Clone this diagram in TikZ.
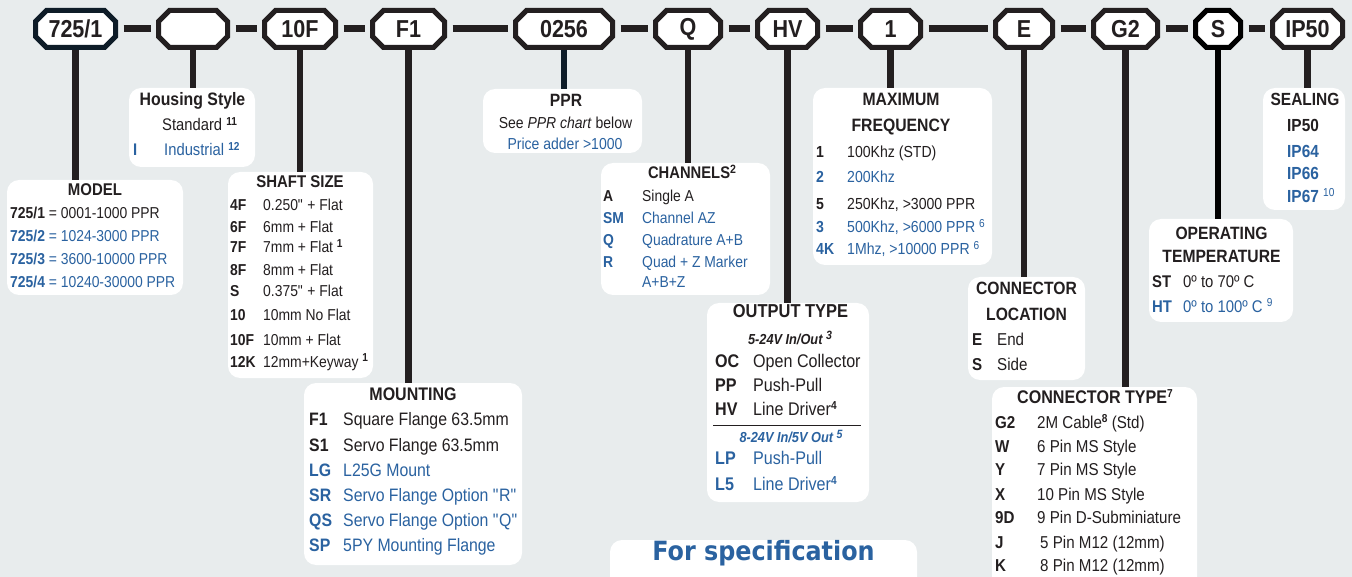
\documentclass[tikz,border=0pt]{standalone}
\usepackage{fontspec}
\setmainfont{Liberation Sans}[FakeStretch=0.88]
\newfontfamily\specfont{DejaVu Sans}[FakeStretch=0.9]
\definecolor{bgc}{HTML}{E8ECED}
\definecolor{ink}{HTML}{231F20}
\definecolor{navy}{HTML}{0E1C28}
\definecolor{bl}{HTML}{2A62A0}
\newcommand\bodysz{15.5}
\newcommand\titlesz{17.8}
\newcommand\sps[1]{\raisebox{0.62ex}{\fontsize{11.5}{12}\selectfont\bfseries #1}}
\newcommand\spr[1]{\raisebox{0.62ex}{\fontsize{11.5}{12}\selectfont\mdseries #1}}
\newcommand\dq{\XeTeXglyph\XeTeXcharglyph34\relax}
\tikzset{
  octline/.style={draw=ink, line width=5pt, fill=white, line join=miter},
  octnode/.style={inner sep=0pt, outer sep=2.5pt, minimum height=37pt, text=ink,
    font=\fontsize{24.5}{26}\selectfont\bfseries},
  bar/.style={draw=ink, line width=7pt},
  stem/.style={draw=ink, line width=6.5pt},
  panel/.style={fill=white, rounded corners=12pt, inner sep=0pt, outer sep=0pt, anchor=north west},
  kcode/.style={anchor=mid west, inner sep=0pt, yshift=-3pt, text=ink, font=\fontsize{\bodysz}{\bodysz}\selectfont\bfseries},
  kval/.style={anchor=mid west, inner sep=0pt, yshift=-3pt, text=ink, font=\fontsize{\bodysz}{\bodysz}\selectfont},
  ktext/.style={anchor=mid, inner sep=0pt, yshift=-3pt, text=ink, font=\fontsize{\bodysz}{\bodysz}\selectfont},
  ktitle/.style={anchor=mid, inner sep=0pt, yshift=-3pt, text=ink, font=\fontsize{\titlesz}{\titlesz}\selectfont\bfseries},
}
% color, name, cx, width, text
\newcommand\octo[5][ink]{%
  \draw[octline, draw=#1] ({#3-#4/2+11},10.5) -- ({#3+#4/2-11},10.5) -- ({#3+#4/2},21.5) -- ({#3+#4/2},36.5)
     -- ({#3+#4/2-11},47.5) -- ({#3-#4/2+11},47.5) -- ({#3-#4/2},36.5) -- ({#3-#4/2},21.5) -- cycle;
  \node[octnode, minimum width=#4] (#2) at (#3,29) {#5};}
% name, x1, y1, x2, y2
\newcommand\panel[5]{\node[panel, minimum width={#4-#2}, minimum height={#5-#3}] (#1) at (#2,#3) {};}
% color, name, xcode, xval, y, code, value
\newcommand\itm[7][ink]{%
  \node[kcode, text=#1] (#2c) at (#3,#5) {#6};
  \node[kval, text=#1] (#2v) at (#4,#5) {#7};}
\begin{document}
\begin{tikzpicture}[x=1pt,y=-1pt]
\useasboundingbox (0,0) rectangle (1352,577);
\clip (0,0) rectangle (1352,577);
\fill[bgc] (0,0) rectangle (1352,577);

% ---------- panels ----------
\panel{pHouse}{129}{88}{255}{167}
\panel{pPPR}{483}{89}{642}{153}
\panel{pFreq}{813}{88}{992}{265}
\panel{pSeal}{1263}{88}{1345}{210}
\panel{pModel}{7}{180}{183}{295}
\panel{pShaft}{228}{172}{373}{378}
\panel{pMount}{304}{383}{522}{565}
\panel{pChan}{601}{163}{770}{295}
\panel{pOut}{707}{303}{869}{502}
\panel{pLoc}{968}{277}{1085}{380}
\panel{pTemp}{1149}{219}{1293}{322}
\panel{pType}{992}{387}{1197}{600}
\panel{pSpec}{610}{540}{917}{620}

% ---------- octagons ----------
\octo[navy]{o1}{75.5}{80}{725/1}
\octo{o2}{193}{69}{}
\octo{o3}{300}{71}{10F}
\octo{o4}{408.5}{72}{F1}
\octo{o5}{564}{97}{0256}
\octo{o6}{688}{65}{Q}
\octo{o7}{787.5}{60}{HV}
\octo{o8}{890.5}{60}{1}
\octo{o9}{1024}{57}{E}
\octo{o10}{1125.5}{64}{G2}
\octo[black]{o11}{1218}{45}{S}
\octo{o12}{1307.5}{70}{IP50}

% ---------- bars ----------
\foreach \a/\b in {o1/o2,o2/o3,o3/o4,o4/o5,o5/o6,o6/o7,o7/o8,o8/o9,o9/o10,o10/o11,o11/o12}
  \draw[bar] ([xshift=5.5pt]\a.east) -- ([xshift=-5.5pt]\b.west);

% ---------- stems ----------
\draw[stem] (o1.south) -- (o1.south |- pModel.north);
\draw[stem] (o2.south) -- (o2.south |- pHouse.north);
\draw[stem] (o3.south) -- (o3.south |- pShaft.north);
\draw[stem] (o4.south) -- (o4.south |- pMount.north);
\draw[stem, draw=navy] (o5.south) -- (o5.south |- pPPR.north);
\draw[stem] (o6.south) -- (o6.south |- pChan.north);
\draw[stem] (o7.south) -- (o7.south |- pOut.north);
\draw[stem] (o8.south) -- (o8.south |- pFreq.north);
\draw[stem] (o9.south) -- (o9.south |- pLoc.north);
\draw[stem] (o10.south) -- (o10.south |- pType.north);
\draw[stem, draw=black] (o11.south) -- (o11.south |- pTemp.north);
\draw[stem] (o12.south) -- (o12.south |- pSeal.north);

% ---------- Housing ----------
\renewcommand\titlesz{18}\renewcommand\bodysz{16.8}
\node[ktitle] (tHouse) at (192.5,100) {Housing Style};
\node[kval] (hStd) at (162,125) {Standard \sps{11}};
\itm[bl]{hInd}{133}{164}{150}{I}{Industrial \sps{12}}

% ---------- PPR ----------
\renewcommand\titlesz{17.8}\renewcommand\bodysz{15.9}
\node[ktitle] (tPPR) at (566,100.5) {PPR};
\node[ktext] (pp1) at (565.5,123) {See \textit{PPR chart} below};
\node[ktext, text=bl] (pp2) at (565,144) {Price adder >1000};

% ---------- Model ----------
\renewcommand\titlesz{17}\renewcommand\bodysz{15.8}
\node[ktitle] (tModel) at (95,190) {MODEL};
\node[kval] (m1) at (10,213) {\textbf{725/1} = 0001-1000 PPR};
\node[kval, text=bl] (m2) at (10,236) {\textbf{725/2} = 1024-3000 PPR};
\node[kval, text=bl] (m3) at (10,259) {\textbf{725/3} = 3600-10000 PPR};
\node[kval, text=bl] (m4) at (10,281.5) {\textbf{725/4} = 10240-30000 PPR};

% ---------- Shaft ----------
\renewcommand\titlesz{17}\renewcommand\bodysz{15.8}
\node[ktitle] (tShaft) at (300,182) {SHAFT SIZE};
\itm{s1}{230}{263}{205}{4F}{0.250\dq{} + Flat}
\itm{s2}{230}{263}{226.5}{6F}{6mm + Flat}
\itm{s3}{230}{263}{247}{7F}{7mm + Flat \sps{1}}
\itm{s4}{230}{263}{269.5}{8F}{8mm + Flat}
\itm{s5}{230}{263}{290.5}{S}{0.375\dq{} + Flat}
\itm{s6}{230}{263}{315}{10}{10mm No Flat}
\itm{s7}{230}{263}{340}{10F}{10mm + Flat}
\itm{s8}{230}{263}{361.5}{12K}{12mm+Keyway \sps{1}}

% ---------- Mounting ----------
\renewcommand\titlesz{18.2}\renewcommand\bodysz{18}
\node[ktitle] (tMount) at (413,394.5) {MOUNTING};
\itm{f1}{309}{343}{420}{F1}{Square Flange 63.5mm}
\itm{f2}{309}{343}{445.5}{S1}{Servo Flange 63.5mm}
\itm[bl]{f3}{309}{343}{470.5}{LG}{L25G Mount}
\itm[bl]{f4}{309}{343}{496}{SR}{Servo Flange Option \dq{}R\dq{}}
\itm[bl]{f5}{309}{343}{521}{QS}{Servo Flange Option \dq{}Q\dq{}}
\itm[bl]{f6}{309}{343}{546}{SP}{5PY Mounting Flange}

% ---------- Channels ----------
\renewcommand\titlesz{16.8}\renewcommand\bodysz{15.8}
\node[ktitle] (tChan) at (692,173) {CHANNELS\raisebox{0.6ex}{\fontsize{12}{12}\selectfont 2}};
\itm{c1}{603}{642}{196}{A}{Single A}
\itm[bl]{c2}{603}{642}{217.5}{SM}{Channel AZ}
\itm[bl]{c3}{603}{642}{240}{Q}{Quadrature A+B}
\itm[bl]{c4}{603}{642}{261.5}{R}{Quad + Z Marker}
\node[kval, text=bl] (c5) at (642,281.5) {A+B+Z};

% ---------- Output type ----------
\renewcommand\titlesz{18.7}\renewcommand\bodysz{18.3}
\node[ktitle] (tOut) at (790.5,311.5) {OUTPUT TYPE};
\node[ktitle, font=\fontsize{14.5}{15}\selectfont\bfseries\itshape] (oSub1) at (790,338.5) {5-24V In/Out \raisebox{0.6ex}{\fontsize{12}{12}\selectfont 3}};
\itm{q1}{715}{753}{361.5}{OC}{Open Collector}
\itm{q2}{715}{753}{386}{PP}{Push-Pull}
\itm{q3}{715}{753}{410}{HV}{Line Driver\sps{4}}
\draw[ink, line width=1pt] (713,425) -- (861,425);
\node[ktitle, text=bl, font=\fontsize{14.5}{15}\selectfont\bfseries\itshape] (oSub2) at (791,437) {8-24V In/5V Out \raisebox{0.6ex}{\fontsize{12}{12}\selectfont 5}};
\itm[bl]{q4}{715}{753}{459}{LP}{Push-Pull}
\itm[bl]{q5}{715}{753}{484.5}{L5}{Line Driver\sps{4}}

% ---------- Max frequency ----------
\renewcommand\titlesz{17.9}\renewcommand\bodysz{16}
\node[ktitle] (tFreq1) at (901,100) {MAXIMUM};
\node[ktitle] (tFreq2) at (901,126) {FREQUENCY};
\itm{r1}{816}{847}{151.5}{1}{100Khz (STD)}
\itm[bl]{r2}{816}{847}{177}{2}{200Khz}
\itm{r3}{816}{847}{203.5}{5}{250Khz, >3000 PPR}
\itm[bl]{r4}{816}{847}{227}{3}{500Khz, >6000 PPR \spr{6}}
\itm[bl]{r5}{816}{847}{249}{4K}{1Mhz, >10000 PPR \spr{6}}

% ---------- Connector location ----------
\renewcommand\titlesz{17.8}\renewcommand\bodysz{17.2}
\node[ktitle] (tLoc1) at (1026.5,289) {CONNECTOR};
\node[ktitle] (tLoc2) at (1026.5,314.5) {LOCATION};
\itm{l1}{972}{997}{340}{E}{End}
\itm{l2}{972}{997}{365}{S}{Side}

% ---------- Operating temperature ----------
\renewcommand\titlesz{17.8}\renewcommand\bodysz{16.9}
\node[ktitle] (tTemp1) at (1221.5,233.5) {OPERATING};
\node[ktitle] (tTemp2) at (1221.5,256.5) {TEMPERATURE};
\itm{t1}{1152}{1183}{282}{ST}{0º to 70º C}
\itm[bl]{t2}{1152}{1183}{306.5}{HT}{0º to 100º C \spr{9}}

% ---------- Connector type ----------
\renewcommand\titlesz{18.3}\renewcommand\bodysz{17.2}
\node[ktitle] (tType) at (1095,397.5) {CONNECTOR TYPE\sps{7}};
\itm{g1}{995}{1037}{422.5}{G2}{2M Cable\sps{8} (Std)}
\itm{g2}{995}{1037}{447}{W}{6 Pin MS Style}
\itm{g3}{995}{1037}{470}{Y}{7 Pin MS Style}
\itm{g4}{995}{1037}{494.5}{X}{10 Pin MS Style}
\itm{g5}{995}{1037}{518}{9D}{9 Pin D-Subminiature}
\itm{g6}{995}{1040}{542.5}{J}{5 Pin M12 (12mm)}
\itm{g7}{995}{1040}{566}{K}{8 Pin M12 (12mm)}

% ---------- Sealing ----------
\renewcommand\titlesz{17.6}\renewcommand\bodysz{17.5}
\node[ktitle] (tSeal) at (1305,100) {SEALING};
\node[kcode] (e1) at (1287,126) {IP50};
\node[kcode, text=bl] (e2) at (1287,151.5) {IP64};
\node[kcode, text=bl] (e3) at (1287,174) {IP66};
\node[kcode, text=bl] (e4) at (1287,197) {IP67 \spr{10}};

% ---------- For specification ----------
\node[anchor=mid, inner sep=0pt, text=bl, font=\specfont\fontsize{26.5}{28}\selectfont\bfseries] (spec) at (763.5,558) {For specification};
\end{tikzpicture}
\end{document}
